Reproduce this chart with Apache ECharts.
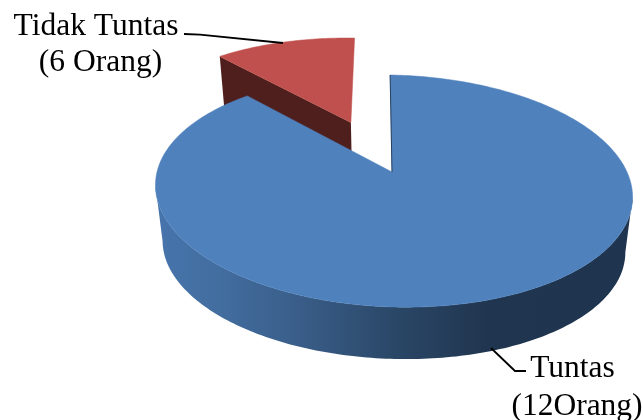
<!DOCTYPE html>
<html>
<head>
<meta charset="utf-8">
<style>html,body{margin:0;padding:0;background:#fff}#c{width:643px;height:420px}</style>
<script src="https://cdn.jsdelivr.net/npm/echarts@6/dist/echarts.min.js"></script>
</head>
<body>
<div id="c"></div>
<script>
// Data
var categories = ['Tuntas', 'Tidak Tuntas'];
var sliceShares = [88, 12];
var labelLines = [['Tuntas', '(12Orang)'], ['Tidak Tuntas', '(6 Orang)']];
var explodes = [0, 0.5];
var topColors = ['#4f81bd', '#c0504d'];

// Perspective view of the pie
var view = { x0: 392, y0: 172, a: 235, c: -12, b: 113, k: 0.164, depthY: 56, depthShrink: 0.03, startDeg: 2.4 };
var labelFont = '31.5px "Liberation Serif", "Times New Roman", serif';
var labelLayout = [
  { lines: [[572.5, 377], [577, 415]], leader: [[491, 348], [515, 371], [526, 371]] },
  { lines: [[96, 35], [100.5, 71]], leader: [[283, 43], [200, 34.7], [184, 34]] }
];

function project(x, y, depth) {
  var s = 1 - view.depthShrink * depth;
  var w = 1 + view.k * y;
  return [view.x0 + s * (view.a * x + view.c * y) / w, view.y0 + view.depthY * depth - s * view.b * y / w];
}
function rim(deg, o, depth) {
  var t = deg * Math.PI / 180;
  return project(o[0] + Math.sin(t), o[1] + Math.cos(t), depth);
}
function arc(from, to, o, depth) {
  var pts = [], n = Math.max(2, Math.ceil(Math.abs(to - from)));
  for (var i = 0; i <= n; i++) pts.push(rim(from + (to - from) * i / n, o, depth));
  return pts;
}

var total = sliceShares.reduce(function (a, b) { return a + b; }, 0);
var angles = [], acc = view.startDeg;
sliceShares.forEach(function (v) {
  var sweep = v / total * 360;
  angles.push([acc, acc + sweep]);
  acc += sweep;
});
var wallGradient = {
  type: 'linear', x: 160, y: 0, x2: 630, y2: 0, global: true,
  colorStops: [
    { offset: 0, color: '#4674ab' }, { offset: 0.13, color: '#426d9f' },
    { offset: 0.3, color: '#395d88' }, { offset: 0.5, color: '#2a4767' },
    { offset: 0.7, color: '#20354f' }, { offset: 1, color: '#1f344e' }
  ]
};

function renderItem(params, api) {
  var i = params.dataIndex;
  var from = angles[i][0], to = angles[i][1], mid = (from + to) / 2 * Math.PI / 180;
  var o = [explodes[i] * Math.sin(mid), explodes[i] * Math.cos(mid)];
  var apexTop = project(o[0], o[1], 0), apexBot = project(o[0], o[1], 1);
  var kids = [];
  var base = i === 0 ? 10 : 0;
  if (i === 0) {
    // outer wall: only the front half, from the rightmost to the leftmost rim point
    var t = arc(from, to, o, 0), b = arc(from, to, o, 1);
    var iMax = 0, iMin = 0;
    t.forEach(function (p, n) {
      if (p[0] > t[iMax][0]) iMax = n;
      if (p[0] < t[iMin][0]) iMin = n;
    });
    var wall = t.slice(iMax, iMin + 1).concat(b.slice(iMax, iMin + 1).reverse());
    kids.push({
      type: 'polygon', z2: base, shape: { points: wall },
      style: { fill: wallGradient }
    });
    kids.push({
      type: 'polyline', z2: base + 2,
      shape: { points: [rim(from, o, 0), apexTop] },
      style: { stroke: '#27415f', lineWidth: 1, fill: null }
    });
  } else {
    kids.push({
      type: 'polygon', z2: base,
      shape: { points: [apexTop, rim(from, o, 0), rim(from, o, 1), apexBot] },
      style: { fill: '#4f1f1d' }
    });
  }
  kids.push({
    type: 'polygon', z2: base + 1,
    shape: { points: [apexTop].concat(arc(from, to, o, 0)) },
    style: { fill: topColors[i], stroke: topColors[i], lineWidth: 0.5 }
  });
  var lay = labelLayout[i];
  kids.push({
    type: 'polyline', z2: 30, shape: { points: lay.leader },
    style: { stroke: '#000', lineWidth: 1.8, fill: null }
  });
  labelLines[i].forEach(function (line, j) {
    kids.push({
      type: 'text', z2: 30,
      style: {
        text: line, x: lay.lines[j][0], y: lay.lines[j][1] - 24, font: labelFont,
        fill: '#000', align: 'center', verticalAlign: 'top'
      }
    });
  });
  return { type: 'group', children: kids };
}

var chart = echarts.init(document.getElementById('c'), null, { renderer: 'canvas' });
chart.setOption({
  animation: false,
  backgroundColor: '#fff',
  series: [{
    type: 'custom',
    coordinateSystem: 'none',
    silent: true,
    renderItem: renderItem,
    data: categories.map(function (c, i) { return { name: c, value: sliceShares[i] }; })
  }]
});
</script>
</body>
</html>
